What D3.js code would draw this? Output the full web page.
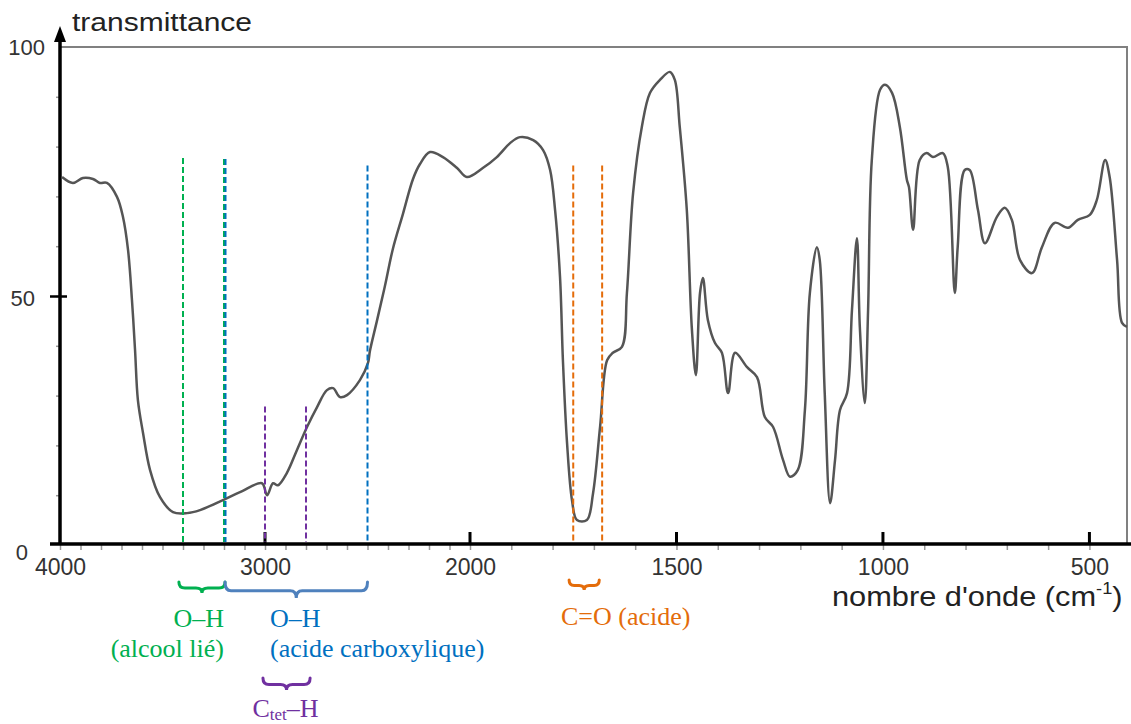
<!DOCTYPE html>
<html lang="fr">
<head>
<meta charset="UTF-8">
<title>Spectre IR</title>
<script src="https://cdn.jsdelivr.net/npm/d3@7"></script>
<style>
  body { margin: 0; background: #fff; }
  svg { display: block; }
</style>
</head>
<body>
<script>
// spectrum (cm-1, %)
const wavenumbers = [
  3990,3937,3888,3839,3805,3771,3722,3693,3668,3649,
  3634,3620,3595,3561,3512,3449,3380,3317,3205,3122,
  3015,2990,2961,2937,2893,2844,2795,2746,2698,2668,
  2634,2600,2537,2498,2488,2454,2415,2376,2327,2278,
  2244,2195,2132,2063,2015,1969,1935,1903,1879,1847,
  1823,1806,1794,1782,1775,1765,1753,1741,1717,1702,
  1685,1668,1654,1632,1620,1605,1584,1564,1540,1516,
  1504,1492,1475,1463,1453,1443,1436,1424,1407,1390,
  1375,1358,1329,1305,1286,1266,1242,1225,1206,1189,
  1177,1160,1153,1141,1128,1116,1104,1087,1075,1063,
  1056,1044,1036,1027,1007,995,978,959,942,937,
  927,911,894,879,855,843,826,819,802,790,
  770,753,724,705,688,668,639,615,584,552,
  528,499,482,462,451,433,421,409
]
const transmittance = [
  73.9,72.7,73.7,73.5,72.7,72.7,69.9,65.9,59.2,49.2,
  39.2,29.1,22.5,15.1,9.6,6.6,6.4,7.0,9.0,10.6,
  12.4,10.0,12.4,12.0,14.5,19.1,23.7,27.7,31.1,31.5,
  29.7,30.1,33.1,36.5,39,45,52,59.5,66.5,73.5,
  76.5,78.9,77.9,75.7,73.9,75.7,77.9,80.7,81.9,81.3,
  79.3,75.3,67.3,53.8,37.1,20.5,9.0,5.0,5.0,10.4,
  23.7,37.1,38.6,39.8,50.6,70.7,83.9,90.8,93.4,95.0,
  93.4,83.9,67.3,43.8,34.1,50.6,53.6,45.2,40.6,38.6,
  30.5,38.6,35.7,33.7,25.7,23.7,17.1,13.7,15.1,27.1,
  50.6,59.8,57.2,30.5,8.4,17.1,27.1,30.5,47.2,61.6,
  43.8,28.5,47.2,77.3,91.4,92.4,90.8,83.9,73.3,71.9,
  63.3,77.3,78.7,77.9,78.7,75.9,50.6,59.8,75.3,75.3,
  67.3,60.6,65.9,67.7,65.3,57.2,54.6,59.8,64.7,63.7,
  65.3,66.3,69.3,77.3,73.9,57.2,44.6,43.8
]

const xTicks = [4000, 3000, 2000, 1500, 1000, 500]
const yTicks = [0, 50, 100]

// bands: dashed line wavenumbers, top of the dashes (%), brace span
const bandNames = ['alcool', 'acide', 'ctet', 'co']
const bandLines = [[3400, 3200], [3200, 2500], [3000, 2800], [1750, 1680]]
const bandTops = [[77.7, 77.5], [77.5, 76.2], [27.8, 27.8], [76.2, 76.2]]
const bandBraces = [[3420, 3195], [3195, 2500], [3010, 2780], [1760, 1687]]

const colors = {
  alcool: '#00b050',
  acide: '#0070c0',
  acideBrace: '#4f81bd',
  ctet: '#7030a0',
  co: '#e46c0a'
}

const width = 1131
const height = 724

const svg = d3.select('body').append('svg')
  .attr('width', width)
  .attr('height', height)

// wavenumber scale changes at 2000 cm-1
const x = d3.scaleLinear()
  .domain([4000, 2000, 409])
  .range([60, 470, 1127])

const y = d3.scaleLinear()
  .domain([0, 100])
  .range([545, 47])

const sans = '"Liberation Sans", Arial, sans-serif'
const serif = '"Liberation Serif", "Times New Roman", serif'

// frame top / right
svg.append('path')
  .attr('d', `M${x(4000)},${y(100)} H${x(409)} V${y(0)}`)
  .attr('fill', 'none')
  .attr('stroke', '#808080')
  .attr('stroke-width', 2)

// minor ticks
svg.append('g')
  .attr('transform', `translate(0, ${y(0)})`)
  .call(d3.axisBottom(x).tickValues(d3.range(500, 4001, 100)).tickSize(5).tickFormat(''))
  .call(g => g.select('.domain').remove())
  .call(g => g.selectAll('line').attr('stroke', '#999').attr('stroke-width', 1.5))

svg.append('g')
  .attr('transform', `translate(${x(4000)}, 0)`)
  .call(d3.axisLeft(y).tickValues(d3.range(10, 100, 10)).tickSize(4).tickFormat(''))
  .call(g => g.select('.domain').remove())
  .call(g => g.selectAll('line').attr('stroke', '#999').attr('stroke-width', 1.5))

// axis lines
svg.append('line')
  .attr('x1', 50).attr('x2', width)
  .attr('y1', y(0) - 1).attr('y2', y(0) - 1)
  .attr('stroke', '#000').attr('stroke-width', 3.5)

svg.append('line')
  .attr('x1', x(4000)).attr('x2', x(4000))
  .attr('y1', y(0)).attr('y2', 38)
  .attr('stroke', '#000').attr('stroke-width', 3.5)

svg.append('path')
  .attr('d', `M${x(4000)},26 L${x(4000) - 6},42 L${x(4000) + 6},42 Z`)
  .attr('fill', '#000')

// x axis labels
const xAxis = svg.append('g')
  .attr('transform', `translate(0, ${y(0)})`)
  .call(d3.axisBottom(x).tickValues(xTicks).tickSize(0).tickPadding(14).tickFormat(d3.format('d')))
xAxis.select('.domain').remove()
xAxis.selectAll('text')
  .attr('font-family', sans)
  .attr('font-size', 23)
  .attr('fill', '#333')

// major ticks pointing up into the plot
svg.append('g')
  .selectAll('line')
  .data(xTicks.filter(d => d !== 4000))
  .join('line')
  .attr('x1', d => x(d)).attr('x2', d => x(d))
  .attr('y1', y(0) - 2).attr('y2', y(0) - 13)
  .attr('stroke', '#000')
  .attr('stroke-width', 3)

// y axis
const yLabelRight = { 0: -32, 50: -25, 100: -15 }
const yLabelShift = { 0: 6, 50: 1, 100: -1 }
const yAxis = svg.append('g')
  .attr('transform', `translate(${x(4000)}, 0)`)
  .call(d3.axisLeft(y).tickValues(yTicks).tickSize(10).tickPadding(14))
yAxis.select('.domain').remove()
yAxis.selectAll('line')
  .attr('x2', d => d === 50 ? -10 : 0)
  .attr('x1', d => d === 50 ? 7 : 0)
  .attr('stroke', '#000').attr('stroke-width', 2.5)
yAxis.selectAll('text')
  .attr('x', d => yLabelRight[d])
  .attr('dy', d => (yLabelShift[d] + 8) + 'px')
  .attr('font-family', sans)
  .attr('font-size', 22)
  .attr('fill', '#333')

svg.append('text')
  .attr('x', 72).attr('y', 31)
  .attr('font-family', sans)
  .attr('font-size', 25)
  .attr('textLength', 180)
  .attr('lengthAdjust', 'spacingAndGlyphs')
  .attr('fill', '#222')
  .text('transmittance')

const xTitle = svg.append('text')
  .attr('transform', 'translate(832, 606) scale(1.14, 1)')
  .attr('font-family', sans)
  .attr('font-size', 27)
  .attr('fill', '#222')
xTitle.append('tspan').text("nombre d'onde (cm")
xTitle.append('tspan').attr('font-size', 16).attr('dy', -12).text('-1')
xTitle.append('tspan').attr('dy', 12).text(')')

// spectrum
const line = d3.line()
  .x((d, i) => x(wavenumbers[i]))
  .y(d => y(d))
  .curve(d3.curveCatmullRom.alpha(0.5))

svg.append('path')
  .datum(transmittance)
  .attr('d', line)
  .attr('fill', 'none')
  .attr('stroke', '#555')
  .attr('stroke-width', 2.5)
  .attr('stroke-linejoin', 'round')

// dashed band lines
bandNames.forEach((name, b) => {
  bandLines[b].forEach((w, j) => {
    const shift = (name === 'acide' && w === 3200) ? 1.5 : 0
    svg.append('line')
      .attr('x1', x(w) + shift).attr('x2', x(w) + shift)
      .attr('y1', y(bandTops[b][j])).attr('y2', y(0) - 3)
      .attr('stroke', colors[name])
      .attr('stroke-width', 2)
      .attr('stroke-dasharray', '6 3')
  })
})

function brace(x1, x2, top, h) {
  const m = (x1 + x2) / 2
  const r = Math.min(6, (x2 - x1) / 6)
  const mid = top + h * 0.55
  return `M${x1},${top} Q${x1},${mid} ${x1 + r},${mid} L${m - r},${mid} Q${m},${mid} ${m},${top + h}` +
    ` Q${m},${mid} ${m + r},${mid} L${x2 - r},${mid} Q${x2},${mid} ${x2},${top}`
}

const braceTop = [582, 582, 678, 580]
const braceH = [11, 16, 12, 10]
const braceColor = [colors.alcool, colors.acideBrace, colors.ctet, colors.co]
bandNames.forEach((name, b) => {
  svg.append('path')
    .attr('d', brace(x(bandBraces[b][0]), x(bandBraces[b][1]), braceTop[b], braceH[b]))
    .attr('fill', 'none')
    .attr('stroke', braceColor[b])
    .attr('stroke-width', 3)
    .attr('stroke-linecap', 'round')
})

// labels
function label(tx, ty, anchor, color, str) {
  return svg.append('text')
    .attr('x', tx).attr('y', ty)
    .attr('text-anchor', anchor)
    .attr('font-family', serif)
    .attr('font-size', 26)
    .attr('fill', color)
    .text(str)
}

label(x(3200), 627, 'end', colors.alcool, 'O–H')
label(x(3200), 657, 'end', colors.alcool, '(alcool lié)')
label(x(3000) + 5, 627, 'start', colors.acide, 'O–H')
label(x(3000) + 5, 657, 'start', colors.acide, '(acide carboxylique)')
label(561, 625, 'start', colors.co, 'C=O (acide)')

const ctet = label(x(2900), 717, 'middle', colors.ctet, '')
ctet.append('tspan').text('C')
ctet.append('tspan').attr('font-size', 17).attr('dy', 3).text('tet')
ctet.append('tspan').attr('dy', -3).text('–H')
</script>
</body>
</html>
